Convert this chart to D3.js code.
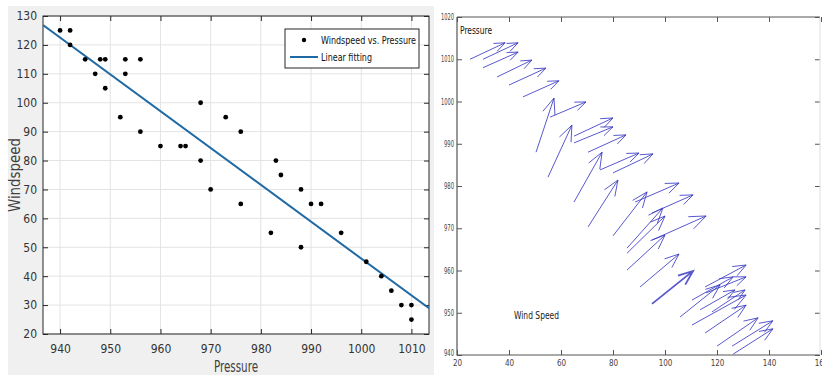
<!DOCTYPE html>
<html>
<head>
<meta charset="utf-8">
<script src="https://cdn.jsdelivr.net/npm/d3@7"></script>
<style>
  body { margin: 0; background: #fff; }
  svg { display: block; }
  text { font-family: "Liberation Sans Narrow", "DejaVu Sans Condensed", "Liberation Sans", sans-serif; }
</style>
</head>
<body>
<svg id="chart" width="822" height="375"></svg>
<script>
// left panel: windspeed vs. pressure scatter
const pressure = [940, 942, 942, 945, 947, 948, 949, 949, 952, 953, 953, 956, 956, 960, 964, 965,
  968, 968, 970, 973, 976, 976, 982, 983, 984, 988, 988, 990, 992, 996, 1001, 1004, 1006, 1008, 1010, 1010];
const windspeed = [125, 125, 120, 115, 110, 115, 115, 105, 95, 115, 110, 115, 90, 85, 85, 85,
  100, 80, 70, 95, 90, 65, 55, 80, 75, 70, 50, 65, 65, 55, 45, 40, 35, 30, 30, 25];
// linear fitting, end points at the axis limits
const fitX = [936.6, 1013.5];
const fitY = [126.9, 28.9];
const xTicksL = [940, 950, 960, 970, 980, 990, 1000, 1010];
const yTicksL = [20, 30, 40, 50, 60, 70, 80, 90, 100, 110, 120, 130];

// right panel: quiver, tail (speed, pressure) and components (u, v)
const qSpeed = [25, 30, 30, 35.4, 40, 45.4, 55.8, 50.4, 55, 65, 65, 70.4, 65, 75, 80, 70.4, 80, 88.5,
  95, 85.4, 85.4, 95, 85.4, 90.4, 95, 105.8, 110.4, 115.4, 115.8, 110.4, 115.4, 120, 125.8, 126.2, 118.1, 113.5];
const qPres = [1010, 1010, 1008, 1005.8, 1003.9, 1001.1, 996.3, 988, 982.1, 991.8, 990.2, 988, 976.2, 983.8,
  983.1, 970.3, 968.2, 976.2, 973.6, 965.3, 964.1, 967.2, 960.1, 956.1, 952.1, 949, 953, 956.1, 954.7,
  947.1, 945.2, 942.1, 942.1, 940.2, 950.2, 950.7];
const qU = [13.5, 13.5, 13.5, 13.4, 14.2, 13.8, 13.8, 6.9, 9.2, 15, 15, 14.6, 10.8, 15, 15.4, 11.5, 13.1, 16.9,
  15.8, 13.8, 14.6, 20.8, 14.6, 15, 15.8, 15.4, 15.8, 15.8, 15.4, 20.8, 15.8, 15.8, 15.7, 15.3, 12.7, 13.4];
const qV = [3.9, 3.9, 3.7, 4.0, 4.0, 3.8, 3.6, 12.8, 12.3, 4.3, 3.8, 4.1, 11.8, 4.0, 4.5, 11.1, 10.4, 4.5,
  4.3, 9.5, 8.8, 5.7, 8.3, 7.8, 7.8, 7.6, 5.5, 5.2, 3.8, 7.1, 6.6, 6.7, 6.0, 6.0, 5.2, 4.7];
const xTicksR = [20, 40, 60, 80, 100, 120, 140, 160];
const yTicksR = [940, 950, 960, 970, 980, 990, 1000, 1010, 1020];

const svg = d3.select('#chart');
const fmt = d3.format('d');

// ---------- left panel ----------
const L = { left: 43, right: 429, top: 16, bottom: 334 };
const xL = d3.scaleLinear().domain([936.6, 1013.5]).range([L.left, L.right]);
const yL = d3.scaleLinear().domain([20, 130]).range([L.bottom, L.top]);

svg.append('rect')
  .attr('x', 8).attr('y', 6).attr('width', 426).attr('height', 369)
  .attr('fill', '#f0f0f0');

svg.append('rect')
  .attr('x', L.left).attr('y', L.top)
  .attr('width', L.right - L.left).attr('height', L.bottom - L.top)
  .attr('fill', '#fff');

// grid
const gridL = svg.append('g').attr('id', 'grid-left')
  .attr('stroke', '#e3e3e3').attr('stroke-width', 1);
gridL.selectAll('.vx')
  .data(xTicksL)
  .enter()
  .append('line')
  .attr('x1', d => xL(d)).attr('x2', d => xL(d))
  .attr('y1', L.top).attr('y2', L.bottom);
gridL.selectAll('.hy')
  .data(yTicksL)
  .enter()
  .append('line')
  .attr('x1', L.left).attr('x2', L.right)
  .attr('y1', d => yL(d)).attr('y2', d => yL(d));

// axes with inside ticks
const axisColor = '#262626';
const axB = svg.append('g').attr('transform', `translate(0,${L.bottom})`)
  .call(d3.axisBottom(xL).tickValues(xTicksL).tickFormat(fmt).tickSizeInner(-5).tickSizeOuter(0).tickPadding(10));
const axLft = svg.append('g').attr('transform', `translate(${L.left},0)`)
  .call(d3.axisLeft(yL).tickValues(yTicksL).tickFormat(fmt).tickSizeInner(-5).tickSizeOuter(0).tickPadding(6));
const axT = svg.append('g').attr('transform', `translate(0,${L.top})`)
  .call(d3.axisTop(xL).tickValues(xTicksL).tickSizeInner(-5).tickSizeOuter(0).tickFormat(''));
const axR = svg.append('g').attr('transform', `translate(${L.right},0)`)
  .call(d3.axisRight(yL).tickValues(yTicksL).tickSizeInner(-5).tickSizeOuter(0).tickFormat(''));
[axB, axLft, axT, axR].forEach(a => {
  a.select('.domain').remove();
  a.selectAll('line').attr('stroke', axisColor);
  a.selectAll('text').attr('fill', '#333').style('font-size', '12px')
    .style('font-family', '"Liberation Sans Narrow", "DejaVu Sans Condensed", sans-serif');
});
axB.selectAll('text').attr('dy', '0.71em');

svg.append('rect')
  .attr('x', L.left).attr('y', L.top)
  .attr('width', L.right - L.left).attr('height', L.bottom - L.top)
  .attr('fill', 'none').attr('stroke', axisColor).attr('stroke-width', 1);

// fitting line
svg.append('clipPath').attr('id', 'clip-left')
  .append('rect')
  .attr('x', L.left).attr('y', L.top)
  .attr('width', L.right - L.left).attr('height', L.bottom - L.top);
svg.append('line')
  .attr('clip-path', 'url(#clip-left)')
  .attr('x1', xL(fitX[0])).attr('y1', yL(fitY[0]))
  .attr('x2', xL(fitX[1])).attr('y2', yL(fitY[1]))
  .attr('stroke', '#1f6aa5').attr('stroke-width', 2);

// points
svg.append('g').attr('id', 'points')
  .selectAll('circle')
  .data(pressure.map((p, i) => ({ p, w: windspeed[i] })))
  .enter()
  .append('circle')
  .attr('cx', d => xL(d.p))
  .attr('cy', d => yL(d.w))
  .attr('r', 2.4)
  .attr('fill', '#000');

// axis labels
svg.append('text')
  .attr('x', (L.left + L.right) / 2).attr('y', 372)
  .attr('text-anchor', 'middle')
  .attr('fill', '#404040').style('font-size', '15px')
  .attr('textLength', 44).attr('lengthAdjust', 'spacingAndGlyphs')
  .text('Pressure');
svg.append('text')
  .attr('transform', `translate(20,${(L.top + L.bottom) / 2}) rotate(-90)`)
  .attr('text-anchor', 'middle')
  .attr('fill', '#404040').style('font-size', '16px')
  .attr('textLength', 74).attr('lengthAdjust', 'spacingAndGlyphs')
  .text('Windspeed');

// legend
const legend = svg.append('g').attr('id', 'legend');
legend.append('rect')
  .attr('x', 285).attr('y', 29).attr('width', 134).attr('height', 39)
  .attr('fill', '#fff').attr('stroke', axisColor).attr('stroke-width', 1);
legend.append('circle')
  .attr('cx', 304).attr('cy', 40).attr('r', 2.2).attr('fill', '#000');
legend.append('line')
  .attr('x1', 290).attr('x2', 318).attr('y1', 57).attr('y2', 57)
  .attr('stroke', '#1f6aa5').attr('stroke-width', 2);
legend.append('text')
  .attr('x', 321).attr('y', 40).attr('dy', '0.35em')
  .attr('fill', '#111').style('font-size', '11px')
  .attr('textLength', 95).attr('lengthAdjust', 'spacingAndGlyphs')
  .text('Windspeed vs. Pressure');
legend.append('text')
  .attr('x', 321).attr('y', 57).attr('dy', '0.35em')
  .attr('fill', '#111').style('font-size', '11px')
  .attr('textLength', 51).attr('lengthAdjust', 'spacingAndGlyphs')
  .text('Linear fitting');

// ---------- right panel ----------
const R = { left: 457, right: 820, top: 17, bottom: 355 };
const xR = d3.scaleLinear().domain([20, 160]).range([R.left, 821]);
const yR = d3.scaleLinear().domain([940, 1020]).range([R.bottom, R.top]);

const rColor = '#555';
const rB = svg.append('g').attr('transform', `translate(0,${R.bottom})`)
  .call(d3.axisBottom(xR).tickValues(xTicksR).tickFormat(fmt).tickSizeInner(-5).tickSizeOuter(0).tickPadding(5));
const rL = svg.append('g').attr('transform', `translate(${R.left},0)`)
  .call(d3.axisLeft(yR).tickValues(yTicksR).tickFormat(fmt).tickSizeInner(-5).tickSizeOuter(0).tickPadding(3));
const rT = svg.append('g').attr('transform', `translate(0,${R.top})`)
  .call(d3.axisTop(xR).tickValues(xTicksR).tickSizeInner(-5).tickSizeOuter(0).tickFormat(''));
const rR = svg.append('g').attr('transform', `translate(${R.right},0)`)
  .call(d3.axisRight(yR).tickValues(yTicksR).tickSizeInner(-5).tickSizeOuter(0).tickFormat(''));
[rB, rL, rT, rR].forEach(a => {
  a.select('.domain').remove();
  a.selectAll('line').attr('stroke', rColor);
  a.selectAll('text').attr('fill', '#444').style('font-size', '8px')
    .style('font-family', '"Liberation Sans Narrow", "DejaVu Sans Condensed", sans-serif');
});
rB.selectAll('text').attr('dy', '0.71em');
rL.selectAll('text')
  .attr('textLength', d => d >= 1000 ? 13 : 10).attr('lengthAdjust', 'spacingAndGlyphs')
  .attr('dy', d => d === 940 ? '0.1em' : '0.32em');

svg.append('path')
  .attr('d', `M${R.left},${R.top}H${R.right}M${R.left},${R.top}V${R.bottom}H${R.right}`)
  .attr('fill', 'none').attr('stroke', rColor).attr('stroke-width', 1.2);
svg.append('line')
  .attr('x1', R.right).attr('x2', R.right).attr('y1', R.top).attr('y2', R.bottom)
  .attr('stroke', '#ddd');

// quiver arrows
const arrows = qSpeed.map((s, i) => {
  const x1 = xR(s), y1 = yR(qPres[i]);
  const x2 = xR(s + qU[i]), y2 = yR(qPres[i] + qV[i]);
  const a = Math.atan2(y2 - y1, x2 - x1);
  const len = Math.hypot(x2 - x1, y2 - y1);
  const h = len * 0.3, spread = 0.38;
  return {
    x1, y1, x2, y2, thick: i === 24,
    hx1: x2 - h * Math.cos(a - spread), hy1: y2 - h * Math.sin(a - spread),
    hx2: x2 - h * Math.cos(a + spread), hy2: y2 - h * Math.sin(a + spread)
  };
});

svg.append('g').attr('id', 'quiver')
  .attr('fill', 'none')
  .attr('stroke', '#3b3bc4')
  .attr('stroke-opacity', 0.85)
  .selectAll('path')
  .data(arrows)
  .enter()
  .append('path')
  .attr('stroke-width', d => d.thick ? 1.8 : 1)
  .attr('d', d => `M${d.x1},${d.y1}L${d.x2},${d.y2}M${d.hx1},${d.hy1}L${d.x2},${d.y2}L${d.hx2},${d.hy2}`);

svg.append('text')
  .attr('x', 460).attr('y', 34)
  .attr('fill', '#111').style('font-size', '10px')
  .attr('textLength', 32).attr('lengthAdjust', 'spacingAndGlyphs')
  .text('Pressure');
svg.append('text')
  .attr('x', 514).attr('y', 319)
  .attr('fill', '#222').style('font-size', '10px')
  .attr('textLength', 45).attr('lengthAdjust', 'spacingAndGlyphs')
  .text('Wind Speed');
</script>
</body>
</html>
